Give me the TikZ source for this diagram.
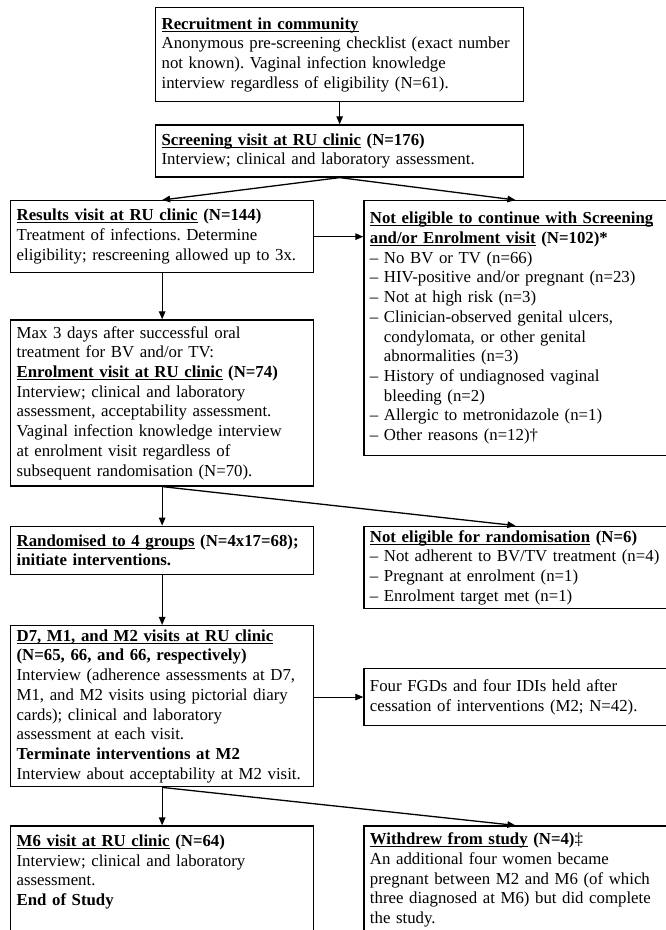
\documentclass[tikz,border=0pt]{standalone}
\usepackage{fontspec}
\setmainfont{Liberation Serif}
\usepackage{tikz}
\usetikzlibrary{arrows.meta,positioning}

\newcommand{\hd}[1]{\textbf{\setbox0\hbox{#1}\rlap{\rule[-2.4pt]{\wd0}{0.9pt}}\box0}}
\newcommand{\hang}{\phantom{-- }}
\frenchspacing

\begin{document}
\begin{tikzpicture}[
    x=1pt, y=-1pt,
    box/.style={draw, line width=1.3pt, align=left, anchor=north west, inner xsep=6pt, inner ysep=4pt,
      minimum width=303pt, text width=291pt, font=\fontsize{16.8}{19.7}\selectfont},
    wide/.style={minimum width=368pt, text width=356pt},
    arrow/.style={-{Triangle[length=8pt, width=6.5pt]}, line width=1.3pt},
    thinarrow/.style={-{Triangle[length=8pt, width=6.5pt]}, line width=0.8pt}
  ]
    \useasboundingbox (0,0) rectangle (665,930);

    \node[box, wide, minimum height=94pt] (rec) at (155,7) {\hd{Recruitment in community}\\
      Anonymous pre-screening checklist (exact number\\
      not known). Vaginal infection knowledge\\
      interview regardless of eligibility (N=61).};
    \node[box, wide, below=22pt of rec, minimum height=52pt] (scr) {\hd{Screening visit at RU clinic} \textbf{(N=176)}\\
      Interview; clinical and laboratory assessment.};

    \node[box, minimum height=72pt] (res) at (10,200) {\hd{Results visit at RU clinic} \textbf{(N=144)}\\
      Treatment of infections. Determine\\
      eligibility; rescreening allowed up to 3x.};
    \node[box, right=49pt of res.north east, anchor=north west, minimum height=255pt] (nelig) {\hd{Not eligible to continue with Screening}\\
      \hd{and/or Enrolment visit} \textbf{(N=102)*}\\
      -- No BV or TV (n=66)\\
      -- HIV-positive and/or pregnant (n=23)\\
      -- Not at high risk (n=3)\\
      -- Clinician-observed genital ulcers,\\
      \hang condylomata, or other genital\\
      \hang abnormalities (n=3)\\
      -- History of undiagnosed vaginal\\
      \hang bleeding (n=2)\\
      -- Allergic to metronidazole (n=1)\\
      -- Other reasons (n=12)†};

    \node[box, below=46pt of res, minimum height=166pt] (enr) {Max 3 days after successful oral\\
      treatment for BV and/or TV:\\
      \hd{Enrolment visit at RU clinic} \textbf{(N=74)}\\
      Interview; clinical and laboratory\\
      assessment, acceptability assessment.\\
      Vaginal infection knowledge interview\\
      at enrolment visit regardless of\\
      subsequent randomisation (N=70).};

    \node[box, below=39pt of enr, minimum height=48pt] (rand) {\hd{Randomised to 4 groups} \textbf{(N=4x17=68);}\\
      \textbf{initiate interventions.}};
    \node[box, right=49pt of rand.north east, anchor=north west, minimum height=79pt] (nrand) {\hd{Not eligible for randomisation} \textbf{(N=6)}\\
      -- Not adherent to BV/TV treatment (n=4)\\
      -- Pregnant at enrolment (n=1)\\
      -- Enrolment target met (n=1)};

    \node[box, below=50pt of rand, minimum height=157pt] (visits) {\hd{D7, M1, and M2 visits at RU clinic}\\
      \textbf{(N=65, 66, and 66, respectively)}\\
      Interview (adherence assessments at D7,\\
      M1, and M2 visits using pictorial diary\\
      cards); clinical and laboratory\\
      assessment at each visit.\\
      \textbf{Terminate interventions at M2}\\
      Interview about acceptability at M2 visit.};
    \node[box, right=49pt of visits.north east, anchor=north west, yshift=-43pt, minimum height=57pt] (fgd) {Four FGDs and four IDIs held after\\
      cessation of interventions (M2; N=42).};

    \node[box, below=38pt of visits, minimum height=108pt] (msix) {\hd{M6 visit at RU clinic} \textbf{(N=64)}\\
      Interview; clinical and laboratory\\
      assessment.\\
      \textbf{End of Study}\\
      \mbox{}};
    \node[box, right=49pt of msix.north east, anchor=north west, minimum height=108pt] (wdrew) {\hd{Withdrew from study} \textbf{(N=4)}‡\\
      An additional four women became\\
      pregnant between M2 and M6 (of which\\
      three diagnosed at M6) but did complete\\
      the study.};

    \draw[arrow] (rec) -- (scr);
    \draw[arrow] (scr.south) -- (res.north);
    \draw[arrow] (scr.south) -- (nelig.north);
    \draw[arrow] (res.east) -- (res.east -| nelig.west);
    \draw[arrow] (res) -- (enr);
    \draw[arrow] (enr) -- (rand);
    \draw[arrow] (enr.south) -- (nrand.north);
    \draw[arrow] (rand) -- (visits);
    \draw[thinarrow] (fgd.west -| visits.east) -- (fgd.west);
    \draw[arrow] (visits) -- (msix);
    \draw[arrow] (visits.south) -- (wdrew.north);
  \end{tikzpicture}
\end{document}
